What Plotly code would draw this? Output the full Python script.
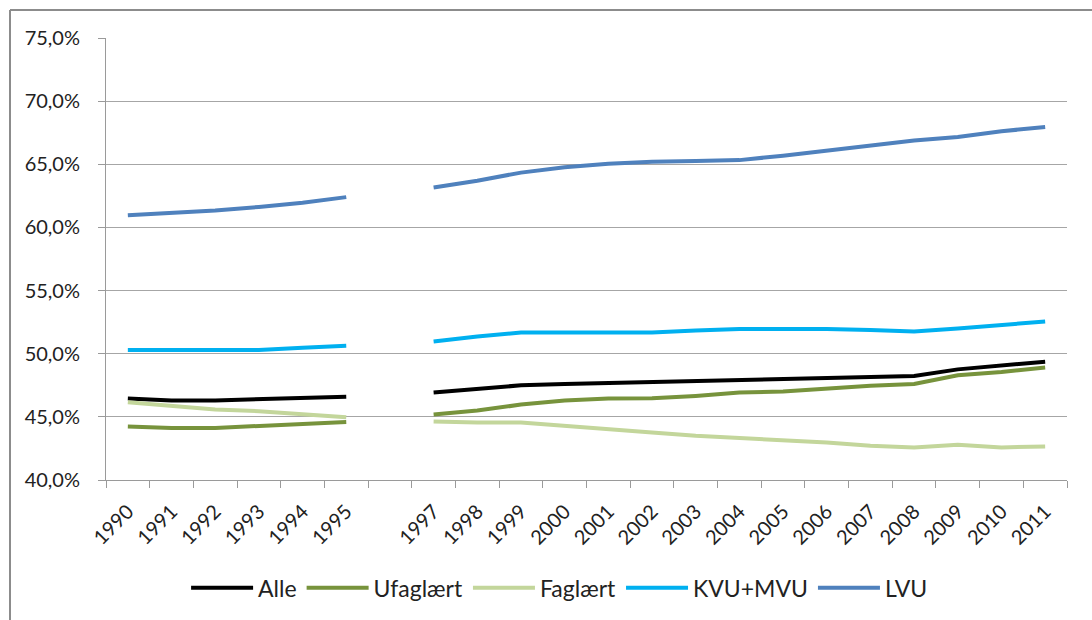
import plotly.graph_objects as go

years = list(range(1990, 2012))
tick_years = [y for y in years if y != 1996]
tick_labels = [str(y) for y in tick_years]

alle = [46.45, 46.3, 46.3, 46.4, 46.5, 46.6, None,
        46.92, 47.18, 47.5, 47.6, 47.68, 47.7, 47.79, 47.89, 47.97, 48.05, 48.16, 48.24, 48.76, 49.03, 49.37]
ufaglaert = [44.24, 44.12, 44.12, 44.26, 44.42, 44.6, None,
             45.18, 45.5, 45.97, 46.3, 46.45, 46.47, 46.66, 46.92, 47.0, 47.26, 47.47, 47.6, 48.29, 48.55, 48.9]
faglaert = [46.16, 45.84, 45.58, 45.45, 45.18, 44.97, None,
            44.63, 44.55, 44.55, 44.26, 43.97, 43.76, 43.5, 43.34, 43.18, 42.97, 42.71, 42.58, 42.79, 42.58, 42.66]
kvu_mvu = [50.3, 50.3, 50.3, 50.3, 50.47, 50.63, None,
           50.97, 51.37, 51.68, 51.68, 51.68, 51.68, 51.84, 51.95, 51.95, 51.95, 51.87, 51.76, 52.0, 52.29, 52.55]
lvu = [60.97, 61.15, 61.35, 61.62, 61.95, 62.4, None,
       63.16, 63.7, 64.34, 64.76, 65.05, 65.2, 65.26, 65.33, 65.68, 66.1, 66.5, 66.88, 67.16, 67.62, 67.95]

series = [
    ("Alle", alle, "#000000"),
    ("Ufaglært", ufaglaert, "#77933C"),
    ("Faglært", faglaert, "#C3D69B"),
    ("KVU+MVU", kvu_mvu, "#00B0F0"),
    ("LVU", lvu, "#4F81BD"),
]

fig = go.Figure()
for name, vals, color in series:
    fig.add_trace(go.Scatter(
        x=years, y=vals, name=name, mode="lines",
        line=dict(color=color, width=4), connectgaps=False,
    ))

font_family = "Lato, 'Open Sans', sans-serif"

fig.update_layout(
    width=1092, height=620,
    margin=dict(l=106, r=25, t=38, b=140, autoexpand=False),
    paper_bgcolor="white", plot_bgcolor="white",
    separators=", ",
    font=dict(family=font_family, size=20, color="#222222"),
    showlegend=True,
    legend=dict(
        orientation="h", x=0.472, xanchor="center", y=-0.244, yanchor="middle",
        font=dict(size=23, color="#222222"), bgcolor="rgba(0,0,0,0)",
        itemwidth=62, tracegroupgap=0,
    ),
    xaxis=dict(
        range=[1989.5, 2011.5], automargin=False,
        tickmode="array", tickvals=tick_years, ticktext=tick_labels,
        tickangle=-45, ticks="", showgrid=False,
        showline=True, linecolor="#9a9a9a", linewidth=1,
        tickfont=dict(size=20, color="#222222"),
        ticklabelstandoff=11, ticklabelshift=0,
        minor=dict(tickvals=[y - 0.5 for y in years] + [2011.5], ticks="outside",
                   ticklen=7, tickcolor="#9a9a9a", showgrid=False),
        zeroline=False,
    ),
    yaxis=dict(
        range=[40, 75], dtick=5, tick0=40, automargin=False,
        tickformat=".1f", ticksuffix="%",
        showgrid=True, gridcolor="#a6a6a6", gridwidth=1,
        showline=True, linecolor="#9a9a9a", linewidth=1,
        ticks="outside", ticklen=7, tickcolor="#9a9a9a",
        tickfont=dict(size=20, color="#222222"),
        ticklabelstandoff=14,
        zeroline=False,
    ),
    shapes=[
        dict(type="line", xref="paper", yref="paper", x0=-0.0999, x1=1.05, y0=1.0633, y1=1.0633,
             line=dict(color="#8c8c8c", width=2)),
        dict(type="line", xref="paper", yref="paper", x0=-0.0999, x1=-0.0999, y0=1.0633, y1=-0.32,
             line=dict(color="#8c8c8c", width=2)),
    ],
)

fig.write_html(
    "out.html",
    config={"displayModeBar": False},
    post_script="document.body.style.margin='0';document.body.style.overflow='hidden';",
)
